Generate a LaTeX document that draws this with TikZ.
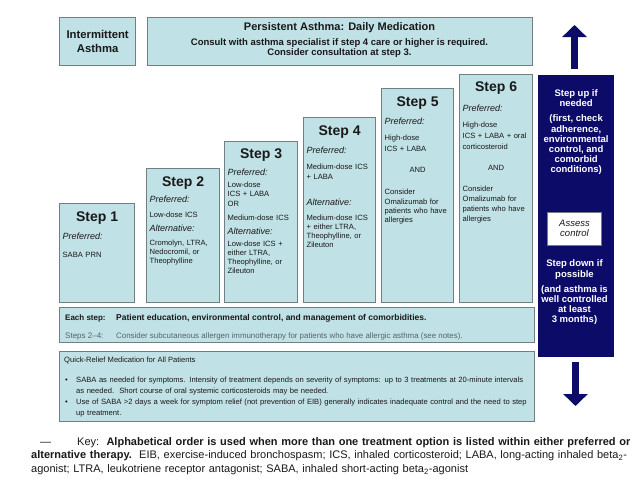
\documentclass[tikz,border=0pt]{standalone}
\usepackage{fontspec}
\setmainfont{Liberation Sans}
\usetikzlibrary{arrows.meta, positioning}
\definecolor{panelfill}{RGB}{192,225,229}
\definecolor{panelline}{RGB}{114,126,128}
\definecolor{navybar}{RGB}{12,12,104}
\definecolor{inktext}{RGB}{25,25,25}
\definecolor{greytext}{RGB}{88,100,102}
\tikzstyle{panel} = [rectangle, anchor=north west, inner sep=0pt, fill=panelfill, draw=panelline, line width=1.3pt]
\tikzstyle{stephead} = [inner sep=0pt, font=\bfseries\fontsize{14}{14}\selectfont, text=inktext]
\tikzstyle{stepbody} = [inner sep=0pt, font=\fontsize{7.6}{9}\selectfont, text=inktext, align=left]
\tikzstyle{bartext} = [inner sep=0pt, font=\bfseries\fontsize{9.5}{10.2}\selectfont, text=white, align=center]
\tikzstyle{relieftext} = [inner sep=0pt, font=\fontsize{7.6}{11}\selectfont, text=inktext, align=left]
\tikzstyle{updown} = [navybar, line width=7pt, -{Triangle[width=24pt, length=12pt]}]
\newcommand{\optlabel}[1]{{\fontsize{9}{9}\selectfont\itshape #1}}

\begin{document}
\begin{tikzpicture}[x=1pt, y=-1pt]
\useasboundingbox (0,0) rectangle (638,479);

% Top banners
\node[panel, minimum width=76pt, minimum height=48pt] (inter) at (59,17) {};
\node[inner sep=0pt, font=\bfseries\fontsize{11.3}{14}\selectfont, text=inktext, align=center] (intertxt) at (inter.center) {Intermittent\\Asthma};
\node[panel, minimum width=385pt, minimum height=48pt] (persist) at (147,17) {};
\node[inner sep=0pt, font=\bfseries\fontsize{11}{11}\selectfont, text=inktext] (persisthead) at (339.5,28) {Persistent Asthma: Daily Medication};
\node[inner sep=0pt, font=\bfseries\fontsize{9.5}{10}\selectfont, text=inktext, align=center] (consult) at (339.5,48.5) {Consult with asthma specialist if step 4 care or higher is required.\\Consider consultation at step 3.};

% Step boxes, rising to the right
\node[panel, minimum width=75pt, minimum height=99pt] (s1) at (59,203) {};
\node[panel, minimum width=73pt, minimum height=134pt] (s2) at (146,168) {};
\node[panel, minimum width=73pt, minimum height=161pt] (s3) at (224,141) {};
\node[panel, minimum width=72pt, minimum height=185pt] (s4) at (303,117) {};
\node[panel, minimum width=72pt, minimum height=214pt] (s5) at (381,88) {};
\node[panel, minimum width=73pt, minimum height=228pt] (s6) at (459,74) {};

\node[stephead, below=8.5pt of s1.north] (s1h) {Step 1};
\node[stephead, below=8.5pt of s2.north] (s2h) {Step 2};
\node[stephead, below=8pt of s3.north] (s3h) {Step 3};
\node[stephead, below=8.5pt of s4.north] (s4h) {Step 4};
\node[stephead, below=8.5pt of s5.north] (s5h) {Step 5};
\node[stephead, below=8pt of s6.north] (s6h) {Step 6};

\node[stepbody, text width=69pt, below=8.6pt of s1h] (s1b) {\optlabel{Preferred:}\\[9pt]
  SABA PRN};
\node[stepbody, text width=67pt, below=6pt of s2h] (s2b) {\optlabel{Preferred:}\\[6pt]
  Low-dose ICS\\[5pt]
  \optlabel{Alternative:}\\[5pt]
  Cromolyn, LTRA,\\ Nedocromil, or\\ Theophylline};
\node[stepbody, text width=67pt, below=7pt of s3h] (s3b) {\optlabel{Preferred:}\\[3pt]
  Low-dose\\ ICS + LABA\\[1pt]
  OR\\[5pt]
  Medium-dose ICS\\[5pt]
  \optlabel{Alternative:}\\[3pt]
  Low-dose ICS +\\ either LTRA,\\ Theophylline, or\\ Zileuton};
\node[stepbody, text width=66pt, below=8.6pt of s4h] (s4b) {\optlabel{Preferred:}\\[7pt]
  Medium-dose ICS\\[1pt] + LABA\\[17pt]
  \optlabel{Alternative:}\\[6pt]
  Medium-dose ICS\\ + either LTRA,\\ Theophylline, or\\ Zileuton};
\node[stepbody, text width=66pt, below=8.6pt of s5h] (s5b) {\optlabel{Preferred:}\\[7pt]
  High-dose\\[2pt] ICS + LABA\\[12pt]
  \makebox[66pt]{AND}\\[13pt]
  Consider\\[1pt] Omalizumab for\\ patients who have\\ allergies};
\node[stepbody, text width=67pt, below=9.6pt of s6h] (s6b) {\optlabel{Preferred:}\\[7pt]
  High-dose\\[2pt] ICS + LABA + oral\\[2pt] corticosteroid\\[12pt]
  \makebox[67pt]{AND}\\[12pt]
  Consider\\[1pt] Omalizumab for\\[1pt] patients who have\\[1.5pt] allergies};

% Step up / step down bar
\node[panel, fill=navybar, draw=navybar, minimum width=75pt, minimum height=281pt] (bar) at (538,75) {};
\node[bartext, below=14.5pt of bar.north] (stepup) {Step up if\\needed\\[5pt](first, check\\adherence,\\environmental\\control, and\\comorbid\\conditions)};
\node[rectangle, fill=white, draw=panelline, line width=0.6pt, minimum width=54pt, minimum height=33pt, inner sep=0pt, font=\itshape\fontsize{9.5}{10}\selectfont, text=inktext, align=center] (assess) at (574.5,228.5) {Assess\\control};
\node[bartext, below=14.5pt of assess.south] (stepdown) {Step down if\\possible\\[5pt](and asthma is\\well controlled\\at least\\3 months)};

\coordinate (uptail) at (574.5,69);
\coordinate (uptip) at (574.5,25);
\coordinate (downtail) at (575.5,362);
\coordinate (downtip) at (575.5,406);
\draw[updown] (uptail) -- (uptip);
\draw[updown] (downtail) -- (downtip);

% Each step strip
\node[panel, minimum width=475pt, minimum height=35pt] (each) at (59,307) {};
\node[inner sep=0pt, anchor=base west, font=\bfseries\fontsize{8}{8}\selectfont, text=inktext] (eachlbl) at (65,320) {Each step:};
\node[inner sep=0pt, anchor=base west, font=\bfseries\fontsize{8.5}{8.5}\selectfont, text=inktext] (eachtxt) at (116,320) {Patient education, environmental control, and management of comorbidities.};
\node[inner sep=0pt, anchor=base west, font=\fontsize{8}{8}\selectfont, text=greytext] (stepslbl) at (65,338) {Steps 2--4:};
\node[inner sep=0pt, anchor=base west, font=\fontsize{7.9}{8}\selectfont, text=greytext] (stepstxt) at (116,338) {Consider subcutaneous allergen immunotherapy for patients who have allergic asthma (see notes).};

% Quick relief
\node[panel, minimum width=475pt, minimum height=70pt] (relief) at (59,351) {};
\node[relieftext, anchor=base west] (relieftitle) at (64,362.7) {Quick-Relief Medication for All Patients};
\node[relieftext, anchor=base west] (dot1) at (65,382.7) {\textbullet};
\node[relieftext, anchor=base west] (dot2) at (65,404.7) {\textbullet};
\node[relieftext, anchor=north west, text width=460pt] (relief1) at (76,377.1) {SABA as needed for symptoms. Intensity of treatment depends on severity of symptoms: up to 3 treatments at 20-minute intervals\\as needed.\ \ Short course of oral systemic corticosteroids may be needed.};
\node[relieftext, anchor=north west, text width=460pt] (relief2) at (76,399.1) {Use of SABA >2 days a week for symptom relief (not prevention of EIB) generally indicates inadequate control and the need to step\\up treatment.};

% Key
\node[inner sep=0pt, anchor=north west, text width=606pt, align=left, font=\fontsize{11}{13.5}\selectfont, text=inktext] (keynote) at (31,437.3) {\hspace*{9pt}---\hspace*{26pt}Key:\ \ \textbf{Alphabetical order is used when more than one treatment option is listed within either preferred or}\\
  \textbf{alternative therapy.}\ \ EIB, exercise-induced bronchospasm; ICS, inhaled corticosteroid; LABA, long-acting inhaled beta\textsubscript{2}-\\
  agonist; LTRA, leukotriene receptor antagonist; SABA, inhaled short-acting beta\textsubscript{2}-agonist};

\end{tikzpicture}
\end{document}
